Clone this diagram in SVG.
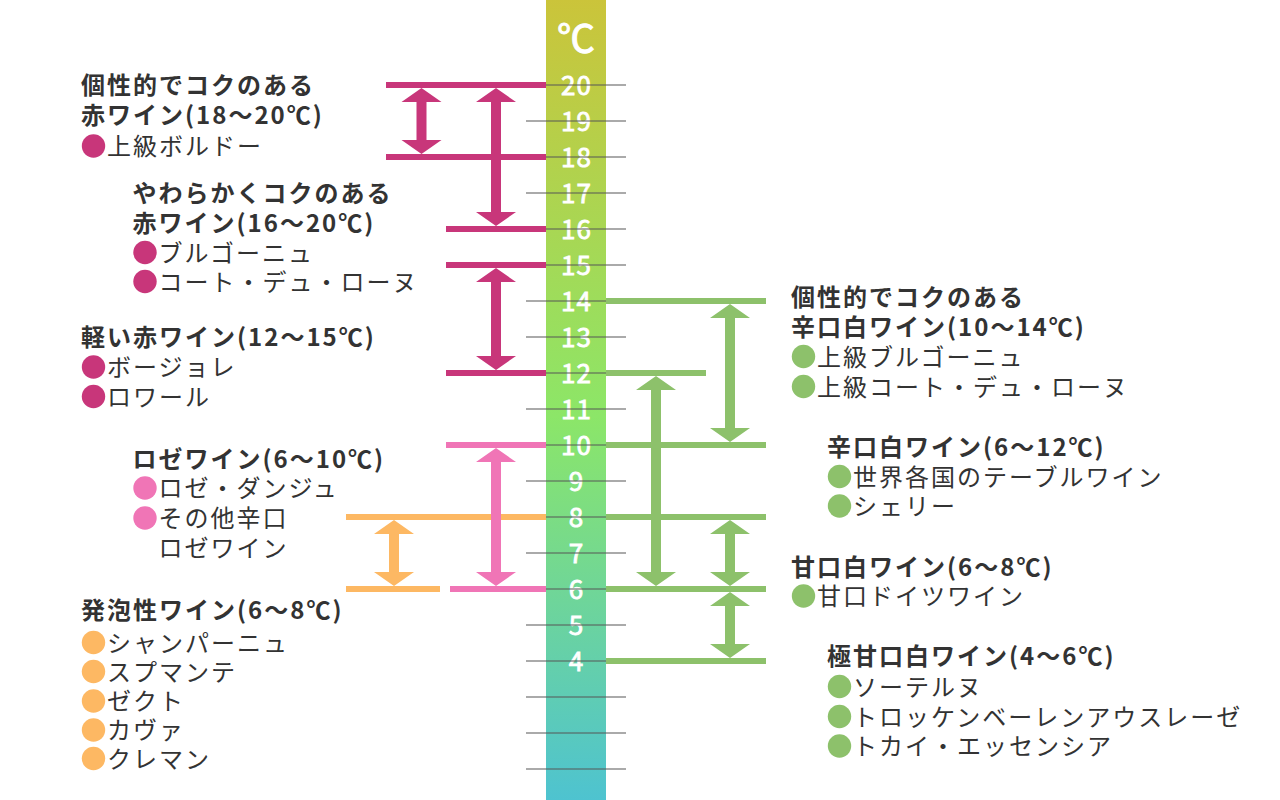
<svg xmlns="http://www.w3.org/2000/svg" width="1280" height="800" viewBox="0 0 1280 800">
<defs>
<linearGradient id="bar" x1="0" y1="0" x2="0" y2="1">
<stop offset="0" stop-color="#cbc43a"/>
<stop offset="0.52" stop-color="#8ce668"/>
<stop offset="1" stop-color="#4ec3d0"/>
</linearGradient>
</defs>
<style>
text{font-family:"Noto Sans CJK JP","Noto Sans",sans-serif;}
.t{font-size:24px;font-weight:700;fill:#333;letter-spacing:2px;}
.i{font-size:24px;font-weight:400;fill:#333;letter-spacing:2px;}
.n{font-size:26px;font-weight:400;fill:#fff;stroke:#fff;stroke-width:0.8;text-anchor:middle;letter-spacing:1px;}
.deg{font-size:38px;font-weight:400;fill:#fff;stroke:#fff;stroke-width:1;text-anchor:middle;}
.tick{stroke:#555;stroke-opacity:0.5;stroke-width:2;}
.r{stroke:#c8367a;stroke-width:6;fill:none;}
.p{stroke:#f075b6;stroke-width:6;fill:none;}
.o{stroke:#fdb863;stroke-width:6;fill:none;}
.g{stroke:#8dc16b;stroke-width:6;fill:none;}
.ra{fill:#c8367a;}.pa{fill:#f075b6;}.oa{fill:#fdb863;}.ga{fill:#8dc16b;}
</style>
<rect width="1280" height="800" fill="#fff"/>
<g id="thermometer">
<rect x="546" y="0" width="60" height="800" fill="url(#bar)"/>
<text class="deg" x="576" y="52">℃</text>
<text class="n" x="576.5" y="94.5">20</text>
<text class="n" x="576.5" y="130.5">19</text>
<text class="n" x="576.5" y="166.5">18</text>
<text class="n" x="576.5" y="202.5">17</text>
<text class="n" x="576.5" y="238.5">16</text>
<text class="n" x="576.5" y="274.5">15</text>
<text class="n" x="576.5" y="310.5">14</text>
<text class="n" x="576.5" y="346.5">13</text>
<text class="n" x="576.5" y="382.5">12</text>
<text class="n" x="576.5" y="418.5">11</text>
<text class="n" x="576.5" y="454.5">10</text>
<text class="n" x="576.5" y="490.5">9</text>
<text class="n" x="576.5" y="526.5">8</text>
<text class="n" x="576.5" y="562.5">7</text>
<text class="n" x="576.5" y="598.5">6</text>
<text class="n" x="576.5" y="634.5">5</text>
<text class="n" x="576.5" y="670.5">4</text>
<g class="tick">
<line x1="526" y1="85" x2="626" y2="85"/>
<line x1="526" y1="121" x2="626" y2="121"/>
<line x1="526" y1="157" x2="626" y2="157"/>
<line x1="526" y1="193" x2="626" y2="193"/>
<line x1="526" y1="229" x2="626" y2="229"/>
<line x1="526" y1="265" x2="626" y2="265"/>
<line x1="526" y1="301" x2="626" y2="301"/>
<line x1="526" y1="337" x2="626" y2="337"/>
<line x1="526" y1="373" x2="626" y2="373"/>
<line x1="526" y1="409" x2="626" y2="409"/>
<line x1="526" y1="445" x2="626" y2="445"/>
<line x1="526" y1="481" x2="626" y2="481"/>
<line x1="526" y1="517" x2="626" y2="517"/>
<line x1="526" y1="553" x2="626" y2="553"/>
<line x1="526" y1="589" x2="626" y2="589"/>
<line x1="526" y1="625" x2="626" y2="625"/>
<line x1="526" y1="661" x2="626" y2="661"/>
<line x1="526" y1="697" x2="626" y2="697"/>
<line x1="526" y1="733" x2="626" y2="733"/>
<line x1="526" y1="769" x2="626" y2="769"/>
</g>
</g>
<g id="connectors">
<line class="r" x1="386" y1="85" x2="546" y2="85"/>
<line class="r" x1="386" y1="157" x2="546" y2="157"/>
<line class="r" x1="446" y1="229" x2="546" y2="229"/>
<line class="r" x1="446" y1="265" x2="546" y2="265"/>
<line class="r" x1="446" y1="373" x2="546" y2="373"/>
<line class="o" x1="346" y1="517" x2="546" y2="517"/>
<line class="o" x1="346" y1="589" x2="440" y2="589"/>
<line class="p" x1="446" y1="445" x2="546" y2="445"/>
<line class="p" x1="450" y1="589" x2="546" y2="589"/>
<line class="g" x1="606" y1="301" x2="766" y2="301"/>
<line class="g" x1="606" y1="373" x2="706" y2="373"/>
<line class="g" x1="606" y1="445" x2="766" y2="445"/>
<line class="g" x1="606" y1="517" x2="766" y2="517"/>
<line class="g" x1="606" y1="589" x2="766" y2="589"/>
<line class="g" x1="606" y1="661" x2="766" y2="661"/>
<path class="ra" d="M421.5,88 L441.5,102 L426.5,102 L426.5,140 L441.5,140 L421.5,154 L401.5,140 L416.5,140 L416.5,102 L401.5,102 Z"/>
<path class="ra" d="M496,88 L516,102 L501,102 L501,212 L516,212 L496,226 L476,212 L491,212 L491,102 L476,102 Z"/>
<path class="ra" d="M496,268 L516,282 L501,282 L501,356 L516,356 L496,370 L476,356 L491,356 L491,282 L476,282 Z"/>
<path class="pa" d="M496,448 L516,462 L501,462 L501,572 L516,572 L496,586 L476,572 L491,572 L491,462 L476,462 Z"/>
<path class="oa" d="M394,520 L414,534 L399,534 L399,572 L414,572 L394,586 L374,572 L389,572 L389,534 L374,534 Z"/>
<path class="ga" d="M730,304 L750,318 L735,318 L735,428 L750,428 L730,442 L710,428 L725,428 L725,318 L710,318 Z"/>
<path class="ga" d="M656,376 L676,390 L661,390 L661,572 L676,572 L656,586 L636,572 L651,572 L651,390 L636,390 Z"/>
<path class="ga" d="M730,520 L750,534 L735,534 L735,572 L750,572 L730,586 L710,572 L725,572 L725,534 L710,534 Z"/>
<path class="ga" d="M730,592 L750,606 L735,606 L735,644 L750,644 L730,658 L710,644 L725,644 L725,606 L710,606 Z"/>
</g>
<g id="red-full">
<text class="t" x="81" y="94">個性的でコクのある</text>
<text class="t" x="81" y="124">赤ワイン(18〜20℃)</text>
<circle cx="93.5" cy="146" r="11.7" fill="#c8367a"/>
<text class="i" x="107" y="155">上級ボルドー</text>
</g>
<g id="red-soft">
<text class="t" x="132.5" y="202">やわらかくコクのある</text>
<text class="t" x="132.5" y="231.5">赤ワイン(16〜20℃)</text>
<circle cx="145" cy="252.5" r="11.7" fill="#c8367a"/>
<text class="i" x="158.5" y="261.5">ブルゴーニュ</text>
<circle cx="145" cy="281.5" r="11.7" fill="#c8367a"/>
<text class="i" x="158.5" y="290.5">コート・デュ・ローヌ</text>
</g>
<g id="red-light">
<text class="t" x="81" y="345.5">軽い赤ワイン(12〜15℃)</text>
<circle cx="93.5" cy="367" r="11.7" fill="#c8367a"/>
<text class="i" x="107" y="376">ボージョレ</text>
<circle cx="93.5" cy="396.5" r="11.7" fill="#c8367a"/>
<text class="i" x="107" y="405.5">ロワール</text>
</g>
<g id="rose">
<text class="t" x="132.5" y="468">ロゼワイン(6〜10℃)</text>
<circle cx="145" cy="488" r="11.7" fill="#f075b6"/>
<text class="i" x="158.5" y="497">ロゼ・ダンジュ</text>
<circle cx="145" cy="518" r="11.7" fill="#f075b6"/>
<text class="i" x="158.5" y="527">その他辛口</text>
<text class="i" x="158.5" y="557">ロゼワイン</text>
</g>
<g id="sparkling">
<text class="t" x="81" y="619">発泡性ワイン(6〜8℃)</text>
<circle cx="93.5" cy="642.5" r="11.7" fill="#fdb863"/>
<text class="i" x="107" y="651.5">シャンパーニュ</text>
<circle cx="93.5" cy="671.5" r="11.7" fill="#fdb863"/>
<text class="i" x="107" y="680.5">スプマンテ</text>
<circle cx="93.5" cy="701" r="11.7" fill="#fdb863"/>
<text class="i" x="107" y="710">ゼクト</text>
<circle cx="93.5" cy="730" r="11.7" fill="#fdb863"/>
<text class="i" x="107" y="739">カヴァ</text>
<circle cx="93.5" cy="758.5" r="11.7" fill="#fdb863"/>
<text class="i" x="107" y="767.5">クレマン</text>
</g>
<g id="white-full">
<text class="t" x="791" y="306">個性的でコクのある</text>
<text class="t" x="791" y="336">辛口白ワイン(10〜14℃)</text>
<circle cx="803.5" cy="356.5" r="11.7" fill="#8dc16b"/>
<text class="i" x="817" y="365.5">上級ブルゴーニュ</text>
<circle cx="803.5" cy="386.5" r="11.7" fill="#8dc16b"/>
<text class="i" x="817" y="395.5">上級コート・デュ・ローヌ</text>
</g>
<g id="white-dry">
<text class="t" x="827" y="455.5">辛口白ワイン(6〜12℃)</text>
<circle cx="839.5" cy="476.5" r="11.7" fill="#8dc16b"/>
<text class="i" x="853" y="485.5">世界各国のテーブルワイン</text>
<circle cx="839.5" cy="506" r="11.7" fill="#8dc16b"/>
<text class="i" x="853" y="515">シェリー</text>
</g>
<g id="white-sweet">
<text class="t" x="791" y="575.5">甘口白ワイン(6〜8℃)</text>
<circle cx="803.5" cy="596" r="11.7" fill="#8dc16b"/>
<text class="i" x="817" y="605">甘口ドイツワイン</text>
</g>
<g id="white-very-sweet">
<text class="t" x="827" y="665">極甘口白ワイン(4〜6℃)</text>
<circle cx="839.5" cy="686.5" r="11.7" fill="#8dc16b"/>
<text class="i" x="853" y="695.5">ソーテルヌ</text>
<circle cx="839.5" cy="716.5" r="11.7" fill="#8dc16b"/>
<text class="i" x="853" y="725.5">トロッケンベーレンアウスレーゼ</text>
<circle cx="839.5" cy="746" r="11.7" fill="#8dc16b"/>
<text class="i" x="853" y="755">トカイ・エッセンシア</text>
</g>
</svg>
